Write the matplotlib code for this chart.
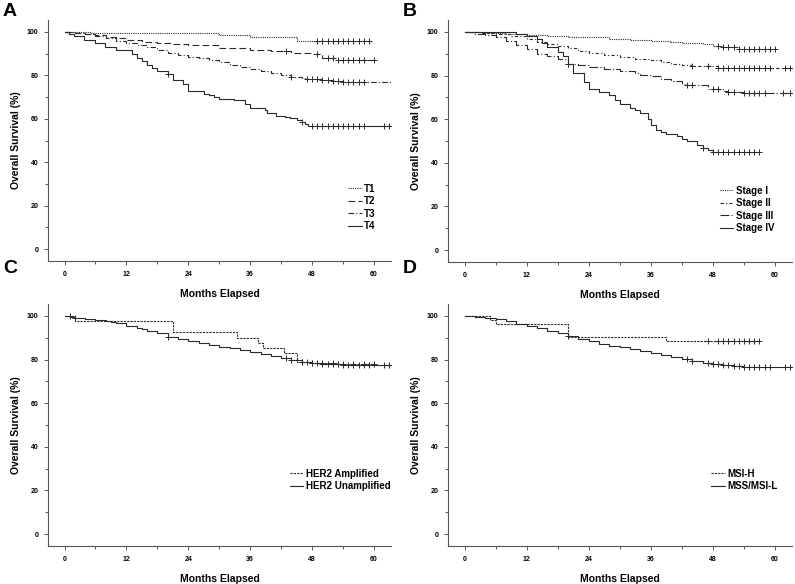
import numpy as np
import matplotlib
matplotlib.use("Agg")
import matplotlib.pyplot as plt
from matplotlib.ticker import MultipleLocator

plt.rcParams['font.family'] = ['Liberation Sans', 'DejaVu Sans']
plt.rcParams['font.weight'] = 'bold'

# ---- Panel A: T stage ----
t1_t = [0, 5, 30, 36, 45]
t1_s = [100, 99.4, 98.5, 97.7, 95.8]
t1_c = [49, 50, 51, 52, 53, 54, 55, 56, 57, 58, 59]
t1_end = 59

t2_t = [0, 2, 4, 6, 8, 10, 12, 15, 18, 21, 24, 30, 36, 40, 44, 48, 50, 53]
t2_s = [100, 99.5, 99, 98.5, 97.8, 97, 96.2, 95.5, 95, 94.5, 94, 92.5, 91.6, 91, 90.5, 89.8, 88.2, 87]
t2_c = [43, 49, 51, 52, 53, 54, 55, 56, 57, 58, 60]
t2_end = 60

t3_t = [0, 2, 4, 6, 8, 10, 12, 14, 16, 18, 20, 22, 24, 26, 28, 30, 32, 34, 36, 38, 40, 42, 44, 46, 47, 50, 52, 54]
t3_s = [100, 99.5, 99, 98, 97, 96, 95, 94, 93, 91.5, 90.5, 89.5, 88.5, 88, 87, 86, 85, 84, 83, 82, 81, 80, 79.4, 78.6, 78.2, 77.9, 77.4, 77]
t3_c = [44, 47, 48, 49, 50, 51, 52, 53, 54, 55, 56, 57, 58]
t3_end = 63.3

t4_t = [0, 0.8, 1.8, 3.7, 6, 7.9, 9.9, 13, 14, 15, 16, 17, 18, 20, 21, 23, 24, 27, 28, 29, 30, 32.8,
        35, 36, 38.9, 39.2, 41, 42.8, 43.7, 45, 46, 46.6, 47.3]
t4_s = [100, 99, 98, 96.5, 95, 93, 91.5, 90, 88, 86.5, 85, 83.5, 82, 80.7, 78, 76, 72.7, 71.5, 71, 70,
        69.3, 68.7, 67, 65, 64, 62.7, 61.5, 61, 60.5, 59.5, 58.5, 57.5, 56.5]
t4_c = [20, 46, 48, 49, 50, 51, 52, 53, 54, 55, 56, 57, 58, 62, 63]
t4_end = 63.3

# ---- Panel B: stage ----
s1_t = [0, 4, 8, 12, 16, 20, 24, 28, 32, 36, 40, 42, 46, 48, 50, 53]
s1_s = [100, 99.5, 99, 98.5, 98, 97.8, 97.5, 97, 96.5, 96, 95.5, 95, 94.3, 93.8, 93.2, 92.3]
s1_c = [49, 50, 51, 52, 53, 54, 55, 56, 57, 58, 59, 60]
s1_end = 60

s2_t = [0, 3, 6, 9, 12, 14, 16, 18, 20, 22, 24, 27, 30, 33, 36, 38, 40, 42, 44, 49]
s2_s = [100, 99.5, 99, 98, 97, 95.5, 94.5, 93.5, 92.5, 91.5, 90.5, 89.5, 88.5, 87.7, 87, 86.3, 85.5, 84.8, 84.2, 83.4]
s2_c = [44, 47, 49, 50, 51, 52, 53, 54, 55, 56, 57, 58, 59, 62, 63]
s2_end = 63.3

s3_t = [0, 2, 4, 6, 8, 10, 12, 14, 16, 18, 20, 22, 24, 27, 30, 33, 34, 36, 38, 40, 42, 43, 47, 50, 51, 54]
s3_s = [100, 99.3, 98.5, 97.5, 96, 94, 92, 90, 89, 87.5, 85.5, 85, 84, 83, 82, 81, 80.5, 80, 78.5, 77.5,
        76.3, 75.7, 73.8, 73, 72.3, 71.8]
s3_c = [20, 43, 44, 48, 49, 51, 52, 54, 55, 56, 57, 58, 61.5, 63]
s3_end = 63.3

s4_t = [0, 10, 12, 14, 15, 16, 18, 19, 20, 21, 23, 24, 26, 28, 29, 30, 32, 33, 34, 35.5, 36, 37, 38, 39,
        41, 42, 43, 45, 46, 47, 48]
s4_s = [100, 99, 98, 97, 95, 93, 91, 89, 85.5, 81, 77, 74, 72.5, 71, 69, 67, 65, 64, 62.8, 60, 57.5, 55,
        54, 53, 52.5, 51, 50, 48, 47, 46, 44.8]
s4_c = [20, 46, 48, 49, 50, 51, 52, 53, 54, 55, 56, 57]
s4_end = 57

# ---- Panel C: HER2 ----
ha_t = [0, 2, 21, 33.5, 37.5, 38.5, 42.5, 45, 48, 53]
ha_s = [100, 97.6, 92.7, 90, 87.5, 85.5, 83, 79, 78.3, 78]
ha_c = [1, 46, 48, 50, 52, 54, 56, 58, 60]
ha_end = 60

hu_t = [0, 1, 2, 4, 6, 8, 9, 10, 12, 14, 15, 16, 18, 20, 22, 24, 26, 28, 30, 32, 34, 36, 38, 40, 42, 44,
        46, 48, 50, 52, 54]
hu_s = [100, 99.7, 99.3, 98.8, 98.3, 97.7, 97.2, 96.6, 95.5, 94.6, 94, 93.2, 92, 90.5, 89.5, 88.5, 87.7,
        86.8, 86, 85.1, 84.3, 83.5, 82.5, 81.5, 80.6, 80, 79, 78.5, 78.1, 77.8, 77.4]
hu_c = [2, 20, 43, 44, 46, 47, 48, 49, 50, 51, 52, 53, 54, 55, 56, 57, 58, 59, 62, 63]
hu_end = 63.3

# ---- Panel D: MSI ----
mh_t = [0, 5, 6, 20, 39]
mh_s = [100, 98.3, 96.3, 90.4, 88.4]
mh_c = [47, 49, 50, 51, 52, 53, 54, 55, 56, 57]
mh_end = 57

ms_t = [0, 2, 4, 6, 8, 10, 12, 14, 16, 18, 20, 22, 24, 26, 28, 30, 32, 34, 36, 38, 40, 42, 44, 46, 48,
        50, 52, 54]
ms_s = [100, 99.4, 98.9, 98.4, 97.5, 96.5, 95.4, 94.5, 93.3, 92, 90.7, 89.3, 88.3, 87.3, 86.4, 85.6,
        84.7, 83.8, 83, 82, 81, 80.2, 79.4, 78.5, 77.8, 77.4, 77, 76.6]
ms_c = [20, 43, 44, 47, 48, 49, 50, 51, 52, 53, 54, 55, 56, 57, 58, 59, 62, 63]
ms_end = 63.3

LINE = '#2a2a2a'
DOT = (0, (1, 1))


def km(ax, t, s, c, end, ls, label, color=LINE, lw=0.8):
    """Draw one step curve with censor marks"""
    x = list(t) + [end]
    y = list(s) + [s[-1]]
    ax.step(x, y, where='post', color=color, lw=lw, linestyle=ls, label=label)
    idx = np.searchsorted(t, c, side='right') - 1
    cy = np.array(s)[idx]
    ax.plot(c, cy, linestyle='none', marker='+', ms=5, mew=0.7, color=LINE)


def style(ax, letter):
    ax.set_xlim(-3.2, 63.3)
    ax.set_ylim(-5.5, 105.5)
    for sp in ['top', 'right']:
        ax.spines[sp].set_visible(False)
    for sp in ['left', 'bottom']:
        ax.spines[sp].set_color('#555555')
        ax.spines[sp].set_linewidth(0.8)
    ax.xaxis.set_major_locator(MultipleLocator(12))
    ax.xaxis.set_minor_locator(MultipleLocator(6))
    ax.yaxis.set_major_locator(MultipleLocator(20))
    ax.yaxis.set_minor_locator(MultipleLocator(10))
    ax.tick_params(which='both', direction='out', color='#555555', width=0.7, labelsize=5)
    ax.tick_params(which='major', length=3, pad=4)
    ax.tick_params(which='minor', length=2)
    ax.set_xlabel('Months Elapsed', fontsize=7.5, fontweight='bold', labelpad=8)
    ax.set_ylabel('Overall Survival (%)', fontsize=7.5, fontweight='bold', labelpad=4)
    ax.legend(loc='upper left', frameon=False, fontsize=7, handlelength=1.4,
              handletextpad=0.25, labelspacing=0.25, borderpad=0, borderaxespad=0,
              bbox_to_anchor=LEG[letter])


fig = plt.figure(figsize=(7.95, 5.84), dpi=100)
W, H = 795, 584
ax_w, ax_h = 343 / W, 241 / H
axA = fig.add_axes([48 / W, 1 - 261 / H, ax_w, ax_h])
axB = fig.add_axes([448 / W, 1 - 262 / H, 344 / W, 242 / H])
axC = fig.add_axes([48 / W, 1 - 546 / H, ax_w, 242 / H])
axD = fig.add_axes([448 / W, 1 - 546 / H, 344 / W, 242 / H])

LEG = {'A': (0.875, 0.32), 'B': (0.79, 0.315), 'C': (0.705, 0.32), 'D': (0.765, 0.32)}

km(axA, t1_t, t1_s, t1_c, t1_end, DOT, 'T1')
km(axA, t2_t, t2_s, t2_c, t2_end, (0, (6, 3)), 'T2')
km(axA, t3_t, t3_s, t3_c, t3_end, (0, (5, 2, 1, 2)), 'T3')
km(axA, t4_t, t4_s, t4_c, t4_end, '-', 'T4')
style(axA, 'A')

km(axB, s1_t, s1_s, s1_c, s1_end, DOT, 'Stage I')
km(axB, s2_t, s2_s, s2_c, s2_end, (0, (3, 2, 1, 2)), 'Stage II')
km(axB, s3_t, s3_s, s3_c, s3_end, (0, (8, 2, 1, 2)), 'Stage III')
km(axB, s4_t, s4_s, s4_c, s4_end, '-', 'Stage IV')
style(axB, 'B')

km(axC, ha_t, ha_s, ha_c, ha_end, (0, (2, 1)), 'HER2 Amplified')
km(axC, hu_t, hu_s, hu_c, hu_end, '-', 'HER2 Unamplified')
style(axC, 'C')

km(axD, mh_t, mh_s, mh_c, mh_end, (0, (2, 1)), 'MSI-H')
km(axD, ms_t, ms_s, ms_c, ms_end, '-', 'MSS/MSI-L')
style(axD, 'D')

# panel letters
for txt, x, y in [('A', 3, 3), ('B', 403, 3), ('C', 3, 260), ('D', 403, 260)]:
    fig.text(x / W, 1 - y / H, txt, fontsize=14, fontweight='bold', va='top', ha='left')

fig.savefig('out.png', dpi=100)
